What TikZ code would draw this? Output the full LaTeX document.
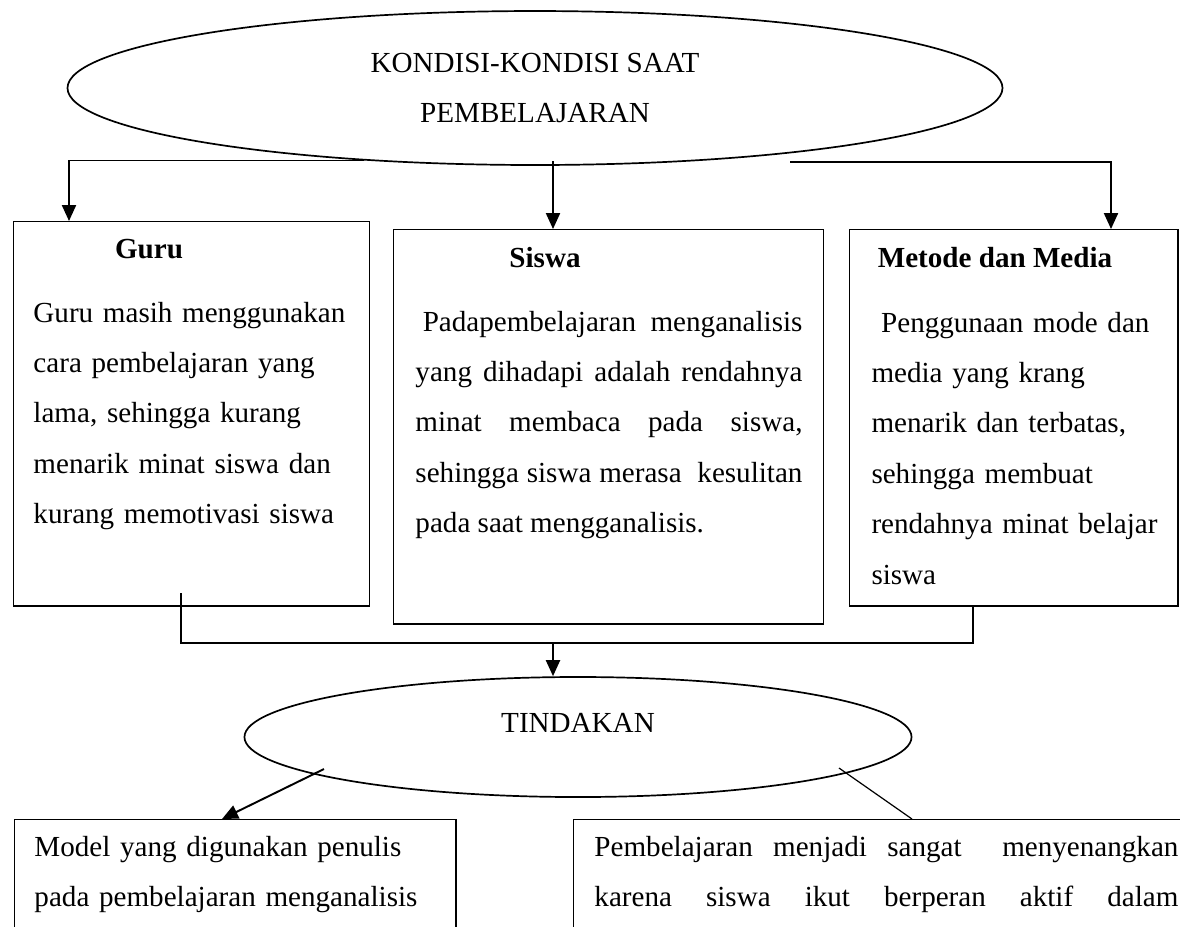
\documentclass[tikz,border=0pt]{standalone}
\usepackage{fontspec}
\setmainfont{Liberation Serif}
\usetikzlibrary{shapes.geometric, arrows.meta, positioning}

% one unit = one pixel of the page
\tikzset{
  oval/.style={ellipse, draw, line width=0.7pt, inner sep=0pt, align=center},
  kotak/.style={rectangle, draw, line width=0.6pt, inner sep=0pt, anchor=north west},
  judul/.style={font=\fontsize{12}{20.8}\selectfont\bfseries, anchor=base, inner sep=0pt},
  isi/.style={anchor=base west, inner sep=0pt, align=left},
  panah/.style={->, line width=0.8pt},
  garis/.style={line width=0.8pt},
}

\begin{document}
\begin{tikzpicture}[x=0.4124pt, y=-0.4124pt,
    font=\fontsize{12}{20.8}\selectfont,
    >={Triangle[length=6.6pt,width=5.8pt]}]
    \clip (0,0) rectangle (1180,926);
    % Ellipses
    \node[oval, minimum width=385.6pt, minimum height=63.5pt] (kondisi) at (535,88)
        {KONDISI-KONDISI SAAT\\PEMBELAJARAN};
    \node[oval, minimum width=275.1pt, minimum height=49.5pt,
          text height=8pt, text depth=11.7pt] (tindakan) at (578,737) {TINDAKAN};
    % Boxes
    \node[kotak, minimum width=146.8pt, minimum height=158.4pt] (guru) at (13,221) {};
    \node[kotak, minimum width=177.3pt, minimum height=162.5pt] (siswa) at (393,229) {};
    \node[kotak, minimum width=135.3pt, minimum height=155.1pt] (metode) at (849,229) {};
    \node[kotak, minimum width=181.9pt, minimum height=123.7pt] (model) at (14,819) {};
    \node[kotak, minimum width=288.7pt, minimum height=123.7pt] (senang) at (573,819) {};
    % Texts
    \node[judul] (gurujudul) at (149,258) {Guru};
    \node[isi, text width=136pt] (guruisi) at (33,322)
        {Guru masih menggunakan\\cara pembelajaran yang\\lama, sehingga kurang\\
         menarik minat siswa dan\\kurang memotivasi siswa};
    \node[judul] (siswajudul) at (545,267) {Siswa};
    \node[isi, text width=159.6pt, align=justify] (siswaisi) at (415,331)
        {\hspace*{3pt}Padapembelajaran menganalisis\linebreak
         yang dihadapi adalah rendahnya\linebreak
         minat membaca pada siswa,\linebreak
         sehingga siswa merasa\ \ kesulitan\linebreak
         pada saat mengganalisis.};
    \node[judul] (metodejudul) at (995,267) {Metode dan Media};
    \node[isi, text width=124pt] (metodeisi) at (871,332)
        {\ Penggunaan mode dan\\media yang krang\\menarik dan terbatas,\\
         sehingga membuat\\rendahnya minat belajar\\siswa};
    \node[isi, text width=165pt] (modelisi) at (34,856)
        {Model yang digunakan penulis\\pada pembelajaran menganalisis};
    \node[isi, text width=240.8pt, align=justify] (senangisi) at (594,856)
        {Pembelajaran menjadi sangat\ \ menyenangkan\linebreak
         karena siswa ikut berperan aktif dalam\linebreak};
    % Connector ends
    \coordinate (kiri) at (kondisi.203.6);
    \coordinate (tengah) at (553,161);
    \coordinate (kanan) at (790,162);
    \coordinate (gurumasuk) at (69,221);
    \coordinate (metodemasuk) at (1111,229);
    \coordinate (guruturun) at (181,593);
    \coordinate (metodeturun) at (973,605);
    \coordinate (gabung) at (553,643);
    \coordinate (tkiri) at (324,769);
    \coordinate (modelmasuk) at (222,819);
    \coordinate (tkanan) at (839,768);
    \coordinate (senangmasuk) at (912,819);
    % Connectors
    \draw[panah] (kiri) -| (gurumasuk);
    \draw[panah] (tengah) -- (tengah |- siswa.north);
    \draw[panah] (kanan) -| (metodemasuk);
    \draw[garis] (guruturun) |- (gabung) -| (metodeturun);
    \draw[panah] (gabung) -- (gabung |- tindakan.north);
    \draw[panah] (tkiri) -- (modelmasuk);
    \draw[line width=0.5pt] (tkanan) -- (senangmasuk);
\end{tikzpicture}
\end{document}
